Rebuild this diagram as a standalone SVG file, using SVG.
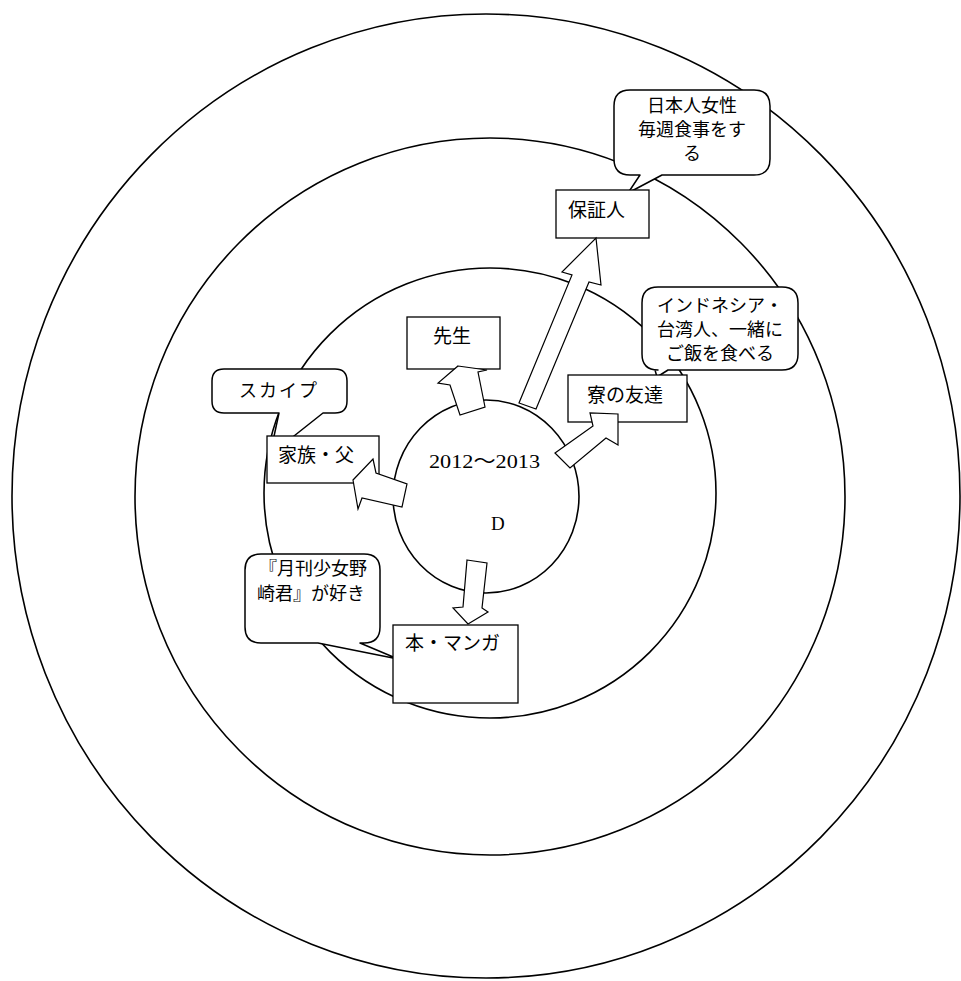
<svg xmlns="http://www.w3.org/2000/svg" width="961" height="981" viewBox="0 0 961 981">
<style>
.ring{fill:none;stroke:#000;stroke-width:1.6}
.core{fill:#fff;stroke:#000;stroke-width:1.6}
.box{fill:#fff;stroke:#000;stroke-width:1.3}
.bub{fill:#fff;stroke:#000;stroke-width:1.5;stroke-linejoin:round}
.arr{fill:#fff;stroke:#000;stroke-width:1.2;stroke-linejoin:miter}
.lbl{font-family:"Noto Sans CJK JP","Noto Sans",sans-serif;font-size:19px;fill:#000}
.bt{font-family:"Noto Sans CJK JP","Noto Sans",sans-serif;font-size:18px;fill:#000;text-anchor:middle}
.num{font-family:"Liberation Serif","Noto Sans CJK JP",serif;font-size:19px;fill:#000}
</style>
<rect width="961" height="981" fill="#fff"/>
<g id="rings">
<ellipse class="ring" cx="486" cy="496" rx="474" ry="482"/>
<ellipse class="ring" cx="490" cy="496.5" rx="355" ry="358.5"/>
<ellipse class="ring" cx="490" cy="493" rx="226" ry="225"/>
</g>
<g id="center">
<ellipse class="core" cx="486" cy="496.5" rx="93" ry="96.5"/>
<text class="num" x="429" y="468" textLength="111" lengthAdjust="spacingAndGlyphs">2012～2013</text>
<text class="num" x="491" y="530" font-size="20">D</text>
</g>
<g id="callout-hoshonin">
<path class="bub" d="M630,90 H754 Q770,90 770,106 V159 Q770,175 754,175 H662 L628,193 L640,175 H630 Q614,175 614,159 V106 Q614,90 630,90 Z"/>
<text class="bt" x="692" y="112">日本人女性</text>
<text class="bt" x="692" y="136">毎週食事をす</text>
<text class="bt" x="692" y="160">る</text>
</g>
<g id="callout-ryo">
<path class="bub" d="M658,287 H782 Q798,287 798,303 V354 Q798,370 782,370 H668 L657,377 L655,370 H658 Q642,370 642,354 V303 Q642,287 658,287 Z"/>
<text class="bt" x="720" y="312">インドネシア・</text>
<text class="bt" x="720" y="336">台湾人、一緒に</text>
<text class="bt" x="720" y="360">ご飯を食べる</text>
</g>
<g id="callout-skype">
<path class="bub" d="M224,369 H335 Q347,369 347,381 V401 Q347,413 335,413 H323 L270,455 L279,413 H224 Q212,413 212,401 V381 Q212,369 224,369 Z"/>
<text class="bt" x="279" y="397" font-size="15" letter-spacing="2">スカイプ</text>
</g>
<g id="callout-manga">
<path class="bub" d="M261,554 H364 Q380,554 380,570 V627 Q380,643 364,643 H360 L398,659 L318,643 H261 Q245,643 245,627 V570 Q245,554 261,554 Z"/>
<text class="bt" x="313" y="575" font-size="15">『月刊少女野</text>
<text class="bt" x="311" y="600" font-size="15">崎君』が好き</text>
</g>
<g id="node-hoshonin">
<rect class="box" x="556" y="190" width="93" height="48"/>
<text class="lbl" x="568" y="217">保証人</text>
</g>
<g id="node-sensei">
<rect class="box" x="407" y="317" width="93" height="52"/>
<text class="lbl" x="433" y="343">先生</text>
</g>
<g id="node-ryo">
<rect class="box" x="568" y="375" width="119" height="47"/>
<text class="lbl" x="587" y="402">寮の友達</text>
</g>
<g id="node-kazoku">
<rect class="box" x="267" y="436" width="112" height="47"/>
<text class="lbl" x="278" y="462">家族・父</text>
</g>
<g id="node-manga">
<rect class="box" x="393" y="625" width="125" height="78"/>
<text class="lbl" x="405" y="650" font-size="20">本・マンガ</text>
</g>
<g id="connectors">
<polygon class="arr" points="596,238 601,285 589,282 536,409 519,403 572,275 562,272"/>
<polygon class="arr" points="458,366 487,370 478,372 485,407 460,415 450,385 438,383"/>
<polygon class="arr" points="555,453 593,426 590,413 618,414 618,445 606,438 570,468"/>
<polygon class="arr" points="353,480 373,459 376,473 407,484 402,507 362,498 358,509"/>
<polygon class="arr" points="467,560 487,563 482,608 488,612 468,624 453,608 463,607"/>
</g>
</svg>
